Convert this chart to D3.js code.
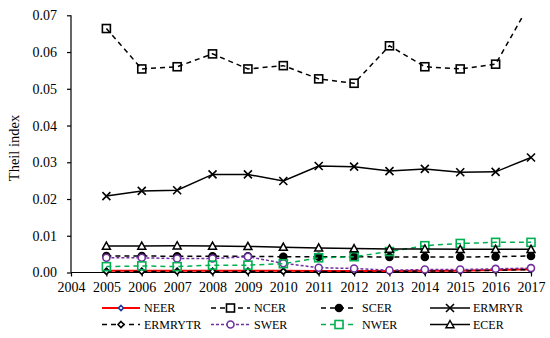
<!DOCTYPE html>
<html><head><meta charset="utf-8">
<script src="https://cdn.jsdelivr.net/npm/d3@7/dist/d3.min.js"></script>
<style>body{margin:0;background:#fff}svg{display:block}</style>
</head><body>
<svg id="c" width="550" height="338"></svg>
<script>
const years = [2005,2006,2007,2008,2009,2010,2011,2012,2013,2014,2015,2016,2017];
const xTicks = [2004,2005,2006,2007,2008,2009,2010,2011,2012,2013,2014,2015,2016,2017];
const yTicks = [0,0.01,0.02,0.03,0.04,0.05,0.06,0.07];
const NEER    = [0.0005,0.0005,0.0005,0.0005,0.0005,0.0005,0.0004,0.0004,0.0004,0.0005,0.0005,0.0007,0.0009];
const NCER    = [0.0664,0.0554,0.0560,0.0595,0.0554,0.0563,0.0527,0.0515,0.0617,0.0560,0.0554,0.0567,0.0737];
const SCER    = [0.0045,0.0045,0.0044,0.0044,0.0044,0.0043,0.0043,0.0043,0.0042,0.0042,0.0042,0.0043,0.0045];
const ERMRYR  = [0.0208,0.0222,0.0224,0.0267,0.0267,0.0249,0.0290,0.0288,0.0276,0.0282,0.0273,0.0274,0.0313];
const ERMRYTR = [0.0003,0.0003,0.0003,0.0003,0.0003,0.0003,0.0003,0.0003,0.0003,0.0004,0.0004,0.0006,0.0008];
const SWER    = [0.0040,0.0040,0.0038,0.0038,0.0043,0.0025,0.0013,0.0011,0.0006,0.0008,0.0008,0.0010,0.0012];
const NWER    = [0.0016,0.0018,0.0016,0.0020,0.0020,0.0024,0.0040,0.0043,0.0057,0.0073,0.0079,0.0082,0.0082];
const ECER    = [0.0072,0.0072,0.0073,0.0072,0.0071,0.0069,0.0067,0.0065,0.0064,0.0064,0.0063,0.0063,0.0063];

const series = [
  {name:"NEER", vals:NEER, color:"#ff0000", dash:null, width:2, marker:"diamond", mstroke:"#1f3a93", mfill:"#fff", msize:5},
  {name:"NCER", vals:NCER, color:"#000", dash:"5,4", width:1.5, marker:"square", mstroke:"#000", mfill:"none", msize:8},
  {name:"SCER", vals:SCER, color:"#000", dash:"5,4", width:1.5, marker:"circle", mstroke:"#000", mfill:"#000", msize:7},
  {name:"ERMRYR", vals:ERMRYR, color:"#000", dash:null, width:1.5, marker:"x", mstroke:"#000", mfill:"none", msize:8},
  {name:"ERMRYTR", vals:ERMRYTR, color:"#000", dash:"5,4", width:1.5, marker:"diamond", mstroke:"#000", mfill:"#fff", msize:6},
  {name:"SWER", vals:SWER, color:"#7030a0", dash:"3,2", width:1.5, marker:"circle", mstroke:"#7030a0", mfill:"#fff", msize:7},
  {name:"NWER", vals:NWER, color:"#00b050", dash:"5,4", width:1.5, marker:"square", mstroke:"#00b050", mfill:"none", msize:8},
  {name:"ECER", vals:ECER, color:"#000", dash:null, width:1.5, marker:"triangle", mstroke:"#000", mfill:"#fff", msize:8}
];

const svg = d3.select("#c");
const font = "'Liberation Serif','Times New Roman',serif";
const x = d3.scaleLinear().domain([2004,2017]).range([71,531]);
const y = d3.scaleLinear().domain([0,0.07]).range([272.5,15.3]);

svg.append("defs").append("clipPath").attr("id","clip")
  .append("rect").attr("x",60).attr("y",15.3).attr("width",490).attr("height",270);

// axes
const yAxis = d3.axisLeft(y).tickValues(yTicks).tickFormat(d3.format(".2f")).tickSize(4).tickPadding(10);
const gy = svg.append("g").attr("transform","translate(71,0)").call(yAxis);
const xAxis = d3.axisBottom(x).tickValues(xTicks).tickFormat(d3.format("d")).tickSize(4).tickPadding(6);
const gx = svg.append("g").attr("transform","translate(0,272.5)").call(xAxis);
[gx,gy].forEach(g=>{
  g.select(".domain").attr("stroke","#000").attr("stroke-width",1.2);
  g.selectAll(".tick line").attr("stroke","#000").attr("stroke-width",1.2);
  g.selectAll("text").attr("fill","#000").style("font-family",font).style("font-size","14px");
});
gy.select(".domain").attr("d","M0,15.3V272.5");
gx.select(".domain").attr("d","M71,0H531");

svg.append("text").attr("transform","translate(19,148) rotate(-90)")
  .attr("text-anchor","middle").style("font-family",font).style("font-size","14.5px").text("Theil index");

function drawMarker(g, type, cx, cy, s, stroke, fill){
  const h = s/2;
  if(type==="square") g.append("rect").attr("x",cx-h).attr("y",cy-h).attr("width",s).attr("height",s)
      .attr("fill",fill).attr("stroke",stroke).attr("stroke-width",1.6);
  else if(type==="circle") g.append("circle").attr("cx",cx).attr("cy",cy).attr("r",h)
      .attr("fill",fill).attr("stroke",stroke).attr("stroke-width",1.6);
  else if(type==="diamond") g.append("path").attr("d",`M${cx},${cy-h}L${cx+h},${cy}L${cx},${cy+h}L${cx-h},${cy}Z`)
      .attr("fill",fill).attr("stroke",stroke).attr("stroke-width",1.6);
  else if(type==="triangle") g.append("path").attr("d",`M${cx},${cy-h}L${cx+h},${cy+h*0.8}L${cx-h},${cy+h*0.8}Z`)
      .attr("fill",fill).attr("stroke",stroke).attr("stroke-width",1.5);
  else if(type==="x") g.append("path").attr("d",`M${cx-h},${cy-h}L${cx+h},${cy+h}M${cx-h},${cy+h}L${cx+h},${cy-h}`)
      .attr("stroke",stroke).attr("stroke-width",1.6).attr("fill","none");
}

const plot = svg.append("g").attr("clip-path","url(#clip)");
const line = d3.line().x((d,i)=>x(years[i])).y(d=>y(d));
series.forEach(s=>{
  const g = plot.append("g");
  g.append("path").datum(s.vals).attr("d",line).attr("fill","none")
    .attr("stroke",s.color).attr("stroke-width",s.width).attr("stroke-dasharray",s.dash);
  s.vals.forEach((v,i)=>{
    if(y(v) >= 15.3) drawMarker(g, s.marker, x(years[i]), y(v), s.msize, s.mstroke, s.mfill);
  });
});

// legend
const cols = [[102,140,144],[211,250,254],[321,357,362],[430,470,473]];
const rows = [308,324.5];
series.forEach((s,i)=>{
  const c = cols[i%4], ry = rows[Math.floor(i/4)];
  const g = svg.append("g");
  g.append("line").attr("x1",c[0]).attr("x2",c[1]).attr("y1",ry).attr("y2",ry)
    .attr("stroke",s.color).attr("stroke-width",s.width).attr("stroke-dasharray",s.dash);
  drawMarker(g, s.marker, (c[0]+c[1])/2, ry, s.msize, s.mstroke, s.mfill==="none"?"#fff":s.mfill);
  g.append("text").attr("x",c[2]).attr("y",ry).attr("dy","0.35em")
    .style("font-family",font).style("font-size","12px").text(s.name);
});
</script>
</body></html>
